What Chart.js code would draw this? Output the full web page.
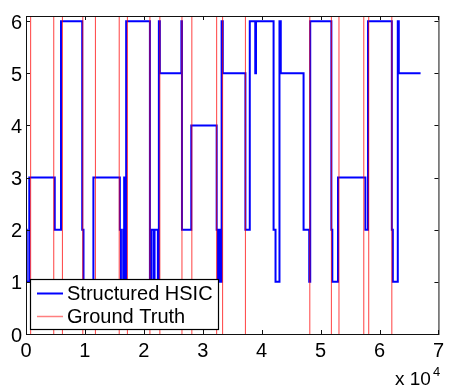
<!DOCTYPE html>
<html>
<head>
<meta charset="utf-8">
<script src="https://cdn.jsdelivr.net/npm/chart.js@4"></script>
<style>
  html, body { margin: 0; padding: 0; background: #fff; }
  #wrap { width: 449px; height: 390px; }
</style>
</head>
<body>
<div id="wrap"><canvas id="chart" width="449" height="390"></canvas></div>
<script>
// ---- data (x in units of 10^4) ----
const xTicks = [0, 1, 2, 3, 4, 5, 6, 7];
const yTicks = [0, 1, 2, 3, 4, 5, 6];
const seriesNames = ["Structured HSIC", "Ground Truth"];

// Structured HSIC: value hsicY[i] starts at hsicX[i]
const hsicX = [0.01, 0.012, 0.056, 0.488, 0.594, 0.954, 0.976, 1.144, 1.593, 1.611, 1.65, 1.666, 1.683, 1.70,
  2.103, 2.131, 2.171, 2.182, 2.238, 2.255, 2.272, 2.637, 2.647, 2.805, 3.236, 3.256, 3.273, 3.29, 3.320, 3.34,
  3.724, 3.798, 3.891, 3.904, 4.202, 4.235, 4.302, 4.324, 4.711, 4.807, 4.824, 5.183, 5.199, 5.295, 5.760,
  5.805, 6.209, 6.226, 6.310, 6.327, 6.697];
const hsicY = [2, 1, 3, 2, 6, 2, 1, 3, 2, 1, 2, 3, 1, 6,
  1, 2, 1, 2, 1, 6, 5, 6, 2, 4, 2, 1, 2, 1, 6, 5,
  2, 6, 5, 6, 2, 1, 6, 5, 2, 1, 6, 2, 1, 3, 2,
  6, 2, 1, 6, 5, 5];

// Ground truth change points
const truthX = [0.079, 0.471, 0.618, 0.964, 1.178, 1.582, 1.721, 2.103, 2.272, 2.647, 2.815, 3.236, 3.337,
  3.724, 4.817, 5.183, 5.312, 5.733, 5.817, 6.209];

const yMax = 6.1;
const FONT = "'Liberation Sans', Arial, sans-serif";
const BLUE = "#0000ff";
const RED = "rgba(255,0,0,0.75)";

// vertical segments for the ground truth, broken with nulls
const truthPts = [];
truthX.forEach(v => {
  truthPts.push({ x: v, y: 0 }, { x: v, y: yMax }, { x: v, y: null });
});

// ---- frame, inward ticks, legend, exponent ----
const decor = {
  id: "decor",
  afterDatasetsDraw(chart) {
    const { ctx, chartArea: a, scales } = chart;
    const line = (x1, y1, x2, y2) => {
      ctx.beginPath(); ctx.moveTo(x1, y1); ctx.lineTo(x2, y2); ctx.stroke();
    };
    ctx.save();
    ctx.strokeStyle = "#111";
    ctx.lineWidth = 1;
    ctx.strokeRect(a.left + 0.5, a.top + 0.5, a.right - a.left, a.bottom - a.top);

    xTicks.forEach(v => {
      const px = Math.round(scales.x.getPixelForValue(v)) + 0.5;
      line(px, a.bottom, px, a.bottom - 4);
      line(px, a.top, px, a.top + 4);
    });
    yTicks.forEach(v => {
      const py = Math.round(scales.y.getPixelForValue(v)) + 0.5;
      line(a.left, py, a.left + 4, py);
      line(a.right, py, a.right - 4, py);
    });

    // legend box
    const bx = 30.5, by = 279.5, bw = 188, bh = 50;
    ctx.fillStyle = "#fff";
    ctx.fillRect(bx, by, bw, bh);
    ctx.strokeStyle = "#000";
    ctx.lineWidth = 1.2;
    ctx.strokeRect(bx, by, bw, bh);

    const rows = [293.5, 316.5];
    const colors = [BLUE, "rgba(255,0,0,0.5)"];
    const widths = [2, 1.5];
    ctx.font = "20px " + FONT;
    ctx.textBaseline = "middle";
    ctx.textAlign = "left";
    seriesNames.forEach((name, i) => {
      ctx.strokeStyle = colors[i];
      ctx.lineWidth = widths[i];
      line(37, rows[i], 63, rows[i]);
      ctx.fillStyle = "#000";
      ctx.fillText(name, 67, rows[i] + 1);
    });

    // x 10^4
    ctx.fillStyle = "#000";
    ctx.textBaseline = "alphabetic";
    ctx.font = "19px " + FONT;
    ctx.fillText("x 10", 395, 385);
    ctx.font = "13px " + FONT;
    ctx.fillText("4", 433, 376);
    ctx.restore();
  }
};

new Chart(document.getElementById("chart"), {
  type: "line",
  data: {
    datasets: [
      {
        label: seriesNames[0],
        data: hsicX.map((v, i) => ({ x: v, y: hsicY[i] })),
        borderColor: BLUE,
        borderWidth: 2,
        stepped: "before",
        pointRadius: 0,
        fill: false,
        order: 1
      },
      {
        label: seriesNames[1],
        data: truthPts,
        borderColor: RED,
        borderWidth: 1,
        pointRadius: 0,
        spanGaps: false,
        fill: false,
        order: 0
      }
    ]
  },
  options: {
    responsive: false,
    animation: false,
    layout: { padding: { top: 14, right: 7, left: 0, bottom: 0 } },
    plugins: { legend: { display: false }, tooltip: { enabled: false } },
    scales: {
      x: {
        type: "linear",
        min: 0,
        max: 7,
        afterBuildTicks: s => { s.ticks = xTicks.map(v => ({ value: v })); },
        afterFit: s => { s.height = 56; },
        grid: { display: false, drawTicks: false },
        border: { display: false },
        ticks: { color: "#000", padding: 5, font: { family: FONT, size: 20 } }
      },
      y: {
        min: 0,
        max: yMax,
        afterBuildTicks: s => { s.ticks = yTicks.map(v => ({ value: v })); },
        afterFit: s => { s.width = 26; },
        grid: { display: false, drawTicks: false },
        border: { display: false },
        ticks: { color: "#000", padding: 4, labelOffset: 2, font: { family: FONT, size: 20 } }
      }
    }
  },
  plugins: [decor]
});
</script>
</body>
</html>
